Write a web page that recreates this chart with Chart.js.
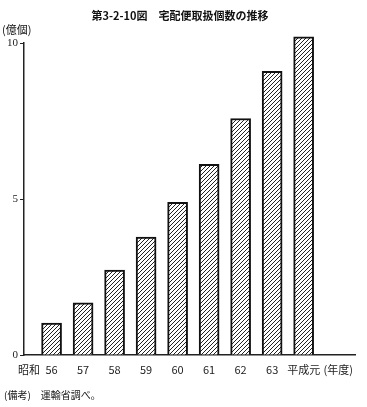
<!DOCTYPE html>
<html lang="ja">
<head>
    <meta charset="UTF-8">
    <title>宅配便取扱個数の推移</title>
    <script src="https://cdn.jsdelivr.net/npm/chart.js"></script>
    <style>
        body {
            margin: 0;
            background: #fff;
            font-family: "Noto Sans CJK JP", sans-serif;
            color: #111;
        }
        .wrap {
            position: relative;
            width: 367px;
            height: 407px;
        }
        #chart {
            position: absolute;
            left: 0;
            top: 0;
        }
        .title {
            position: absolute;
            top: 7px;
            left: 0;
            width: 360px;
            text-align: center;
            font-size: 11px;
            font-weight: bold;
        }
        .unit {
            position: absolute;
            top: 21px;
            left: 2px;
            font-size: 11px;
        }
        .note {
            position: absolute;
            top: 387px;
            left: 4px;
            font-size: 10px;
        }
    </style>
</head>
<body>
    <div class="wrap">
        <canvas id="chart" width="367" height="407"></canvas>
        <div class="title">第3-2-10図　宅配便取扱個数の推移</div>
        <div class="unit">(億個)</div>
        <div class="note">(備考)　運輸省調べ。</div>
    </div>

    <script>
        // data (億個)
        const years = ['56', '57', '58', '59', '60', '61', '62', '63', '平成元'];
        const parcels = [1.02, 1.67, 2.72, 3.78, 4.89, 6.11, 7.58, 9.09, 10.2];
        const eraLabel = '昭和';
        const unitLabel = '(年度)';
        const yTicks = [0, 5, 10];

        // x tick positions: era label, each year, then unit
        const xTickVals = [-0.72].concat(years.map((y, i) => i), [9.1]);
        const xTickText = [eraLabel].concat(years, [unitLabel]);

        // diagonal hatch pattern
        function hatch() {
            const s = 4;
            const c = document.createElement('canvas');
            c.width = s; c.height = s;
            const g = c.getContext('2d');
            g.fillStyle = '#fff';
            g.fillRect(0, 0, s, s);
            g.strokeStyle = '#222';
            g.lineWidth = 1;
            g.beginPath();
            g.moveTo(0, s); g.lineTo(s, 0);
            g.moveTo(-1, 1); g.lineTo(1, -1);
            g.moveTo(s - 1, s + 1); g.lineTo(s + 1, s - 1);
            g.stroke();
            return g.createPattern(c, 'repeat');
        }

        const ctx = document.getElementById('chart').getContext('2d');
        const chart = new Chart(ctx, {
            type: 'bar',
            data: {
                datasets: [{
                    data: parcels.map((v, i) => ({ x: i, y: v })),
                    backgroundColor: hatch(),
                    borderColor: '#111',
                    borderWidth: 2,
                    borderSkipped: 'bottom',
                    barThickness: 20,
                    clip: false
                }]
            },
            options: {
                responsive: false,
                animation: false,
                layout: {
                    padding: { top: 43, right: 12, bottom: 0, left: 0 }
                },
                plugins: {
                    legend: { display: false },
                    tooltip: { enabled: false }
                },
                scales: {
                    x: {
                        type: 'linear',
                        offset: false,
                        min: -0.875,
                        max: 9.63,
                        afterBuildTicks: (scale) => {
                            scale.ticks = xTickVals.map(v => ({ value: v }));
                        },
                        afterFit: (scale) => {
                            scale.height = 52;
                            scale.paddingLeft = 0;
                            scale.paddingRight = 0;
                        },
                        grid: { display: false, offset: false },
                        border: { display: true, color: '#222', width: 1.5 },
                        ticks: {
                            autoSkip: false,
                            maxRotation: 0,
                            padding: 0,
                            color: '#222',
                            font: { family: '"Noto Sans CJK JP", sans-serif', size: 11 },
                            callback: (value, index) => xTickText[index]
                        }
                    },
                    y: {
                        min: 0,
                        max: 10,
                        afterBuildTicks: (scale) => {
                            scale.ticks = yTicks.map(v => ({ value: v }));
                        },
                        afterFit: (scale) => {
                            scale.width = 24;
                            scale.paddingTop = 0;
                            scale.paddingBottom = 0;
                        },
                        grid: {
                            drawOnChartArea: false,
                            drawTicks: true,
                            tickLength: 4,
                            color: '#222'
                        },
                        border: { display: true, color: '#222', width: 1.5 },
                        ticks: {
                            padding: 2,
                            color: '#222',
                            font: { family: '"Liberation Serif", serif', size: 11 }
                        }
                    }
                }
            }
        });
    </script>
</body>
</html>
